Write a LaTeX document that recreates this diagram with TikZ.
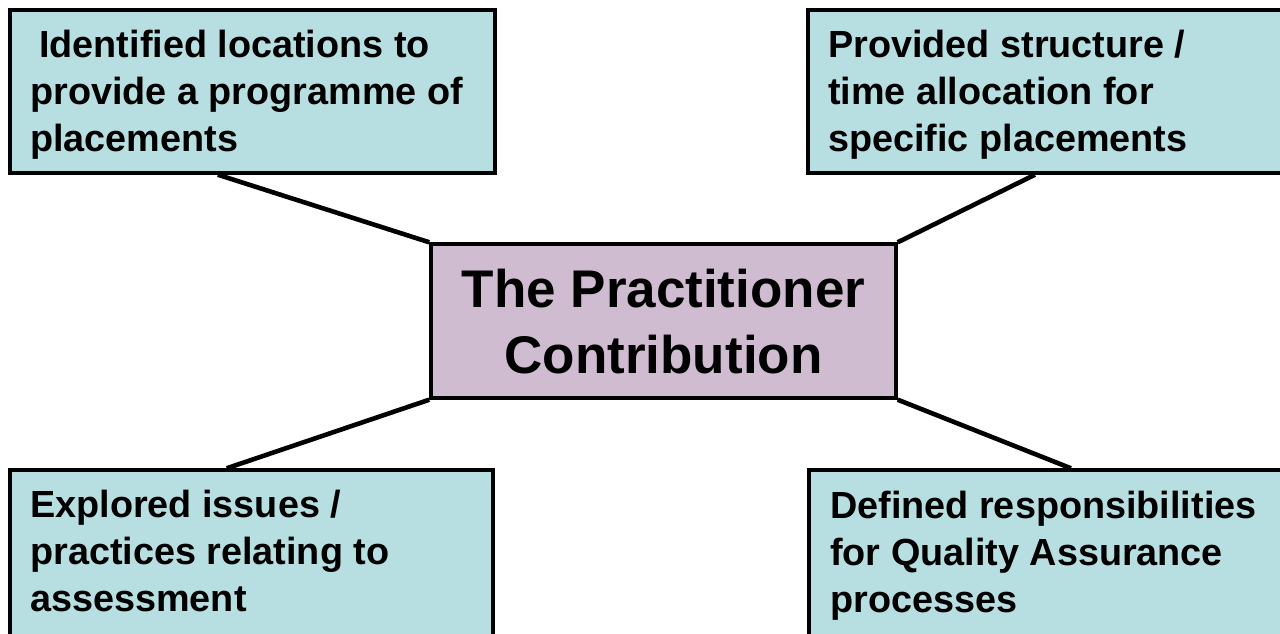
\documentclass[tikz,border=0pt]{standalone}
\usepackage{fontspec}
\setmainfont{Liberation Sans}
\usetikzlibrary{calc}
\definecolor{boxcyan}{HTML}{B7DEE0}
\definecolor{boxlilac}{HTML}{CFBCD0}
\tikzset{
  outerbox/.style={draw=black, line width=3.4pt, fill=boxcyan, rectangle, inner sep=0pt},
  centerbox/.style={draw=black, line width=3.4pt, fill=boxlilac, rectangle, inner sep=0pt},
  boxtext/.style={anchor=north west, inner sep=0pt, align=left,
    font=\fontsize{37.8}{47}\selectfont\bfseries},
  centertext/.style={anchor=north, inner sep=0pt, align=center,
    font=\fontsize{53}{66}\selectfont\bfseries},
  link/.style={draw=black, line width=4.6pt}
}
\begin{document}
\begin{tikzpicture}[x=1pt,y=-1pt]
\useasboundingbox (0,0) rectangle (1280,633);
\clip (0,0) rectangle (1280,633);
% boxes
\node[outerbox, minimum width=485pt, minimum height=163pt] (tl) at (252.5,91.5) {};
\node[outerbox, minimum width=477pt, minimum height=163pt] (tr) at (1046.5,91.5) {};
\node[outerbox, minimum width=483pt, minimum height=170pt] (bl) at (251.5,555) {};
\node[outerbox, minimum width=476pt, minimum height=170pt] (br) at (1047,555) {};
\node[centerbox, minimum width=465pt, minimum height=154pt] (ctr) at (663.5,321) {};
% texts
\node[boxtext] (tlt) at (30,29.5) {\hspace*{9pt}Identified locations to\\provide a programme of\\placements};
\node[boxtext] (trt) at (828,29.5) {Provided structure /\\time allocation for\\specific placements};
\node[boxtext] (blt) at (30,490) {Explored issues /\\practices relating to\\assessment};
\node[boxtext] (brt) at (830,491) {Defined responsibilities\\for Quality Assurance\\processes};
\node[centertext] (ctt) at (663.5,269) {The Practitioner\\Contribution};
% connectors
\draw[link] ($(tl.south west)!0.429!(tl.south east)$) -- (ctr.north west);
\draw[link] ($(tr.south west)!0.476!(tr.south east)$) -- (ctr.north east);
\draw[link] ($(bl.north west)!0.449!(bl.north east)$) -- (ctr.south west);
\draw[link] ($(br.north west)!0.55!(br.north east)$) -- (ctr.south east);
\end{tikzpicture}
\end{document}
